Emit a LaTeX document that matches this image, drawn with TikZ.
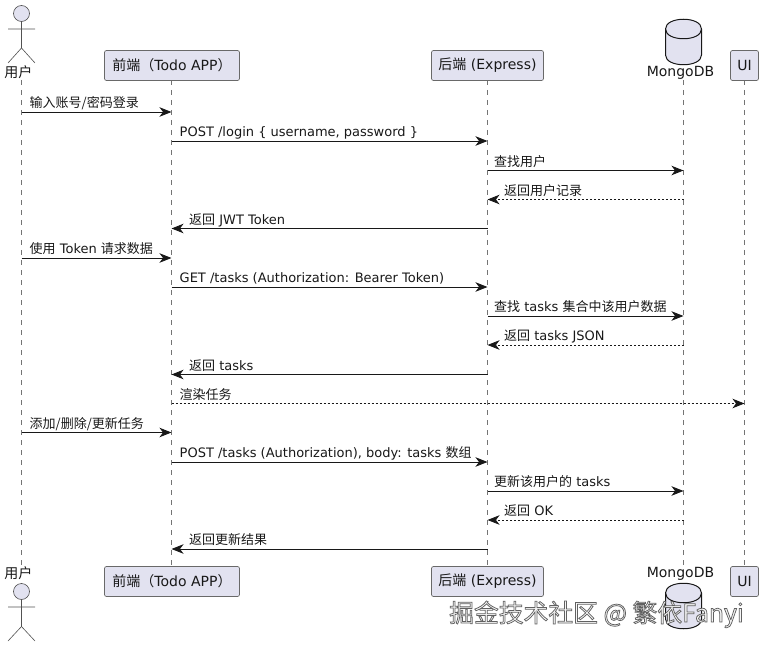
\documentclass[tikz,border=0pt]{standalone}
\usepackage{fontspec}
\setmainfont{DejaVu Sans}
\newfontfamily\cjk{Noto Sans CJK SC}
\usetikzlibrary{arrows.meta}
\definecolor{pfill}{HTML}{E2E2F0}
\definecolor{pline}{HTML}{181818}
\newcommand{\zh}[1]{{\cjk #1}}
\tikzset{
  x=1pt,y=-1pt,
  partbox/.style={draw=pline!65,line width=0.7pt,fill=pfill,rounded corners=2pt,minimum height=30pt,inner sep=0pt,font=\fontsize{14}{14}\selectfont,text=pline},
  msgline/.style={draw=pline,line width=0.9pt,-{Stealth[length=12pt,width=9.5pt,inset=3.5pt]}},
  retline/.style={msgline,line width=0.8pt,dash pattern=on 2pt off 2pt},
  lifeline/.style={draw=pline!60,line width=0.6pt,dash pattern=on 5pt off 5pt},
  msglabel/.style={anchor=base west,inner sep=0pt,yshift=-0.8pt,font=\fontsize{13}{13}\selectfont,text=pline},
  namelabel/.style={inner sep=0pt,font=\fontsize{14}{14}\selectfont,text=pline},
  actorline/.style={draw=pline!75,line width=0.6pt,fill=none},
  dbshape/.style={draw=pline,line width=1pt,fill=pfill},
}
\begin{document}
\begin{tikzpicture}
\useasboundingbox (0,0) rectangle (763,647);
% anchors
\coordinate (A) at (21.5,0);
\coordinate (F) at (171.5,0);
\coordinate (B) at (487.5,0);
\coordinate (D) at (683.5,0);
\coordinate (U) at (744.5,0);
% lifelines
\draw[lifeline] (A|-0,80) -- (A|-0,566);
\draw[lifeline] (F|-0,80) -- (F|-0,566);
\draw[lifeline] (B|-0,80) -- (B|-0,566);
\draw[lifeline] (D|-0,80) -- (D|-0,566);
\draw[lifeline] (U|-0,80) -- (U|-0,566);
% top participants
\node[partbox,minimum width=135pt] (ft) at (172,65.5) {\zh{前端（}Todo APP\zh{）}\hspace{4pt}};
\node[partbox,minimum width=112pt] (bt) at (487.5,65.5) {\zh{后端} (Express)};
\node[partbox,minimum width=28pt] (ut) at (744.5,65.5) {UI};
% bottom participants
\node[partbox,minimum width=135pt] (fb) at (172,581.5) {\zh{前端（}Todo APP\zh{）}\hspace{4pt}};
\node[partbox,minimum width=112pt] (bb) at (487.5,581.5) {\zh{后端} (Express)};
\node[partbox,minimum width=28pt] (ub) at (744.5,581.5) {UI};
% actors
\draw[actorline,fill=pfill] (21.5,13.5) circle (8);
\draw[actorline] (21.5,21.5) -- (21.5,48) (8,29) -- (35,29) (8,63) -- (21.5,48) -- (35,63);
\node[namelabel] (at) at (18.5,72.5) {\zh{用户}};
\draw[actorline,fill=pfill] (21.5,591.5) circle (8);
\draw[actorline] (21.5,599.5) -- (21.5,626.5) (8,607) -- (35,607) (8,641) -- (21.5,626.5) -- (35,641);
\node[namelabel] (ab) at (18.5,573.5) {\zh{用户}};
% databases
\draw[dbshape] (665.5,29) .. controls (665.5,16) and (701.5,16) .. (701.5,29) -- (701.5,55) .. controls (701.5,68) and (665.5,68) .. (665.5,55) -- cycle;
\draw[dbshape,fill=none] (665.5,29) .. controls (665.5,42) and (701.5,42) .. (701.5,29);
\node[namelabel] (dt) at (680.5,73) {MongoDB};
\draw[dbshape] (665.5,593) .. controls (665.5,580) and (701.5,580) .. (701.5,593) -- (701.5,619) .. controls (701.5,632) and (665.5,632) .. (665.5,619) -- cycle;
\draw[dbshape,fill=none] (665.5,593) .. controls (665.5,606) and (701.5,606) .. (701.5,593);
\node[namelabel] (db) at (680.5,574) {MongoDB};
% messages
\draw[msgline] (A|-0,112) -- (F|-0,112);
\node[msglabel] at (29.5,107) {\zh{输入账号/密码登录}};
\draw[msgline] (F|-0,141) -- (B|-0,141);
\node[msglabel] at (179.5,136) {POST /login \{ username, password \}};
\draw[msgline] (B|-0,170.5) -- (D|-0,170.5);
\node[msglabel] at (494,165.5) {\zh{查找用户}};
\draw[retline] (D|-0,199.5) -- (B|-0,199.5);
\node[msglabel] at (504,194.5) {\zh{返回用户记录}};
\draw[msgline] (B|-0,228.5) -- (F|-0,228.5);
\node[msglabel] at (189,223.5) {\zh{返回} JWT Token};
\draw[msgline] (A|-0,258) -- (F|-0,258);
\node[msglabel] at (29.5,253) {\zh{使用} Token \zh{请求数据}};
\draw[msgline] (F|-0,287) -- (B|-0,287);
\node[msglabel] at (179.5,282) {GET /tasks (Authorization: Bearer Token)};
\draw[msgline] (B|-0,316) -- (D|-0,316);
\node[msglabel] at (494,311) {\zh{查找} tasks \zh{集合中该用户数据}};
\draw[retline] (D|-0,345) -- (B|-0,345);
\node[msglabel] at (504,340) {\zh{返回} tasks JSON};
\draw[msgline] (B|-0,374.5) -- (F|-0,374.5);
\node[msglabel] at (189,369.5) {\zh{返回} tasks};
\draw[retline] (F|-0,403.5) -- (U|-0,403.5);
\node[msglabel] at (179.5,398.5) {\zh{渲染任务}};
\draw[msgline] (A|-0,432.5) -- (F|-0,432.5);
\node[msglabel] at (29.5,427.5) {\zh{添加/删除/更新任务}};
\draw[msgline] (F|-0,462) -- (B|-0,462);
\node[msglabel] at (179.5,457) {POST /tasks (Authorization), body: tasks \zh{数组}};
\draw[msgline] (B|-0,491) -- (D|-0,491);
\node[msglabel] at (494,486) {\zh{更新该用户的} tasks};
\draw[retline] (D|-0,520) -- (B|-0,520);
\node[msglabel] at (504,515) {\zh{返回} OK};
\draw[msgline] (B|-0,549) -- (F|-0,549);
\node[msglabel] at (189,544) {\zh{返回更新结果}};
% watermark
\node[anchor=base west,inner sep=0pt,font=\fontsize{24.8}{24.8}\selectfont] (wm) at (449,622) {\special{pdf:code q 2 Tr 0.75 w 0.38 0.38 0.38 RG 0.97 0.97 0.97 rg}\cjk 掘金技术社区 @ 繁依Fanyi\special{pdf:code Q}};
\end{tikzpicture}
\end{document}
